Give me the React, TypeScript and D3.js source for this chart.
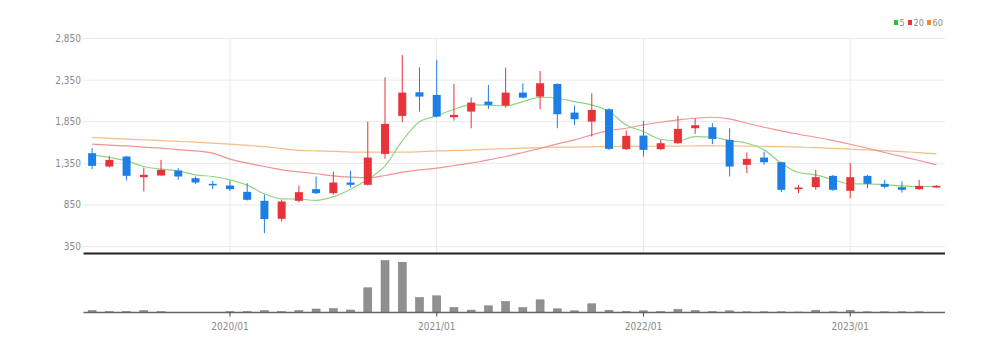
import React from 'react';
import * as d3 from 'd3';

// monthly candles, 2019/05 .. 2023/06
const months = [
  '2019/05', '2019/06', '2019/07', '2019/08', '2019/09', '2019/10', '2019/11', '2019/12',
  '2020/01', '2020/02', '2020/03', '2020/04', '2020/05', '2020/06', '2020/07', '2020/08',
  '2020/09', '2020/10', '2020/11', '2020/12', '2021/01', '2021/02', '2021/03', '2021/04',
  '2021/05', '2021/06', '2021/07', '2021/08', '2021/09', '2021/10', '2021/11', '2021/12',
  '2022/01', '2022/02', '2022/03', '2022/04', '2022/05', '2022/06', '2022/07', '2022/08',
  '2022/09', '2022/10', '2022/11', '2022/12', '2023/01', '2023/02', '2023/03', '2023/04',
  '2023/05', '2023/06',
];

const opens = [
  1472, 1312, 1432, 1184, 1204, 1264, 1172, 1104, 1084, 1008,
  900, 684, 900, 1040, 992, 1120, 1092, 1464, 1920, 2204,
  2172, 1904, 1972, 2092, 2044, 2200, 2152, 2304, 1960, 1852,
  2000, 1520, 1684, 1520, 1592, 1772, 1784, 1632, 1332, 1420,
  1364, 1040, 1064, 1200, 1020, 1200, 1104, 1064, 1040, 1060,
];
const closes = [
  1320, 1392, 1200, 1212, 1272, 1192, 1120, 1092, 1040, 912,
  680, 892, 1004, 992, 1120, 1092, 1420, 1824, 2200, 2152,
  1912, 1932, 2080, 2052, 2200, 2140, 2312, 1940, 1880, 1992,
  1524, 1680, 1512, 1592, 1764, 1808, 1644, 1312, 1404, 1364,
  1032, 1060, 1184, 1032, 1184, 1104, 1068, 1032, 1080, 1080,
];
const highs = [
  1532, 1440, 1440, 1300, 1392, 1292, 1192, 1140, 1144, 1112,
  972, 912, 1084, 1192, 1252, 1260, 1852, 2384, 2652, 2504,
  2592, 2304, 2140, 2292, 2500, 2312, 2460, 2310, 2044, 2192,
  2010, 1744, 1860, 1632, 1920, 1892, 1832, 1772, 1480, 1492,
  1370, 1092, 1272, 1210, 1352, 1210, 1152, 1132, 1152, 1088,
];
const lows = [
  1280, 1300, 1144, 1012, 1204, 1152, 1104, 1040, 1020, 904,
  512, 652, 880, 980, 975, 1060, 1084, 1404, 1844, 1972,
  1900, 1864, 1772, 2004, 2020, 2130, 2000, 1772, 1812, 1672,
  1512, 1512, 1432, 1510, 1585, 1704, 1580, 1192, 1232, 1332,
  1004, 992, 1032, 1020, 932, 1052, 1048, 1000, 1032, 1056,
];
const volumes = [
  200, 100, 100, 200, 100, 0, 0, 0, 100, 100,
  200, 100, 200, 350, 400, 250, 2470, 5200, 5030, 1500,
  1670, 500, 240, 670, 1100, 500, 1270, 370, 170, 870,
  230, 100, 170, 100, 330, 200, 100, 170, 70, 70,
  70, 50, 230, 70, 230, 70, 70, 70, 70, 0,
];

const ma5 = [
  1452, 1420, 1380, 1312, 1280, 1260, 1212, 1192, 1152, 1088,
  984, 924, 920, 905, 950, 1040, 1160, 1320, 1620, 1850,
  1920, 2000, 2052, 2050, 2040, 2092, 2144, 2132, 2092, 2052,
  1972, 1812, 1732, 1640, 1620, 1672, 1664, 1624, 1592, 1512,
  1352, 1240, 1212, 1152, 1104, 1104, 1092, 1080, 1072, 1072,
];
const ma20 = [
  1580, 1570, 1560, 1545, 1532, 1515, 1500, 1472, 1400, 1352,
  1312, 1272, 1248, 1225, 1200, 1185, 1178, 1204, 1244, 1272,
  1292, 1324, 1352, 1392, 1432, 1480, 1530, 1584, 1632, 1692,
  1744, 1772, 1812, 1844, 1872, 1892, 1904, 1884, 1832, 1784,
  1740, 1700, 1664, 1624, 1580, 1532, 1480, 1432, 1384, 1332,
];
const ma60 = [
  1660, 1650, 1640, 1632, 1624, 1614, 1604, 1592, 1580, 1566,
  1552, 1528, 1506, 1500, 1494, 1486, 1484, 1484, 1484, 1490,
  1500, 1505, 1510, 1520, 1525, 1532, 1540, 1544, 1546, 1548,
  1552, 1553, 1555, 1556, 1558, 1559, 1560, 1560, 1558, 1555,
  1550, 1545, 1540, 1530, 1520, 1512, 1504, 1492, 1478, 1464,
];

const priceTicks = [350, 850, 1350, 1850, 2350, 2850];
const dateTicks = ['2020/01', '2021/01', '2022/01', '2023/01'];
const legendNames = ['5', '20', '60'];

const UP = '#e8333a';
const DOWN = '#1d7fe6';
const maColors = ['#8ed67f', '#f29393', '#f7bd88'];
const font = "'Liberation Sans Narrow', 'DejaVu Sans Condensed', 'Roboto', sans-serif";

export default function App() {
  const left = 83.5;
  const right = 945;
  const priceBottom = 253.5;
  const volBase = 312.5;

  const x = d3.scaleBand<string>().domain(months).range([left, right]);
  const bw = x.bandwidth();
  const cx = (m: string) => (x(m) as number) + bw / 2;
  const y = d3.scaleLinear().domain([350, 2850]).range([246.6, 38.5]);
  const vy = d3.scaleLinear().domain([0, 5200]).range([volBase, 260.5]);
  const body = 8;

  const line = d3
    .line<number>()
    .x((_, i) => cx(months[i]))
    .y((d) => y(d))
    .curve(d3.curveMonotoneX);

  return (
    <svg width={1007} height={352} style={{ position: 'absolute', left: 0, top: 0 }} fontFamily={font}>
      <rect width={1007} height={352} fill="#fff" />

      {/* grid */}
      {priceTicks.map((t) => (
        <line key={t} x1={left} x2={right} y1={y(t)} y2={y(t)} stroke="#e9e9e9" strokeWidth={1} />
      ))}
      {dateTicks.map((d) => (
        <line key={d} x1={cx(d)} x2={cx(d)} y1={y(2850)} y2={priceBottom} stroke="#e9e9e9" strokeWidth={1} />
      ))}

      {/* y labels */}
      {priceTicks.map((t) => (
        <text key={t} x={81} y={y(t)} dy="0.35em" textAnchor="end" fontSize={10} fill="#8a8a8a">
          {d3.format(',')(t)}
        </text>
      ))}

      {/* moving averages */}
      {[ma60, ma20, ma5].map((s, k) => (
        <path key={k} d={line(s) || ''} fill="none" stroke={maColors[2 - k]} strokeWidth={1.2} />
      ))}

      {/* candles */}
      {months.map((m, i) => {
        const up = closes[i] >= opens[i];
        const c = up ? UP : DOWN;
        const top = y(Math.max(opens[i], closes[i]));
        const bot = y(Math.min(opens[i], closes[i]));
        return (
          <g key={m}>
            <line x1={cx(m)} x2={cx(m)} y1={y(highs[i])} y2={y(lows[i])} stroke={c} strokeWidth={1} />
            <rect x={cx(m) - body / 2} y={top} width={body} height={Math.max(bot - top, 1.5)} fill={c} />
          </g>
        );
      })}

      <line x1={left} x2={right} y1={priceBottom} y2={priceBottom} stroke="#222" strokeWidth={2} />

      {/* volume */}
      {months.map((m, i) =>
        volumes[i] > 0 ? (
          <rect
            key={m}
            x={cx(m) - body / 2}
            y={vy(volumes[i])}
            width={body}
            height={volBase - vy(volumes[i])}
            fill="#909090"
            stroke="#7a7a7a"
            strokeWidth={0.5}
          />
        ) : null
      )}
      <line x1={left} x2={right} y1={volBase} y2={volBase} stroke="#666" strokeWidth={1.5} />
      {dateTicks.map((d) => (
        <g key={d}>
          <line x1={cx(d)} x2={cx(d)} y1={volBase} y2={volBase + 4} stroke="#444" strokeWidth={1} />
          <text x={cx(d)} y={volBase + 17} textAnchor="middle" fontSize={10} fill="#8a8a8a">
            {d}
          </text>
        </g>
      ))}

      {/* legend */}
      {legendNames.map((n, k) => {
        const lx = [894, 908, 927][k];
        return (
          <g key={n}>
            <rect x={lx} y={20} width={4} height={5} fill={['#2ebd2e', '#e8333a', '#f58a1f'][k]} />
            <text x={lx + 5.5} y={25.5} fontSize={9} fill="#8a8a8a">
              {n}
            </text>
          </g>
        );
      })}
    </svg>
  );
}
